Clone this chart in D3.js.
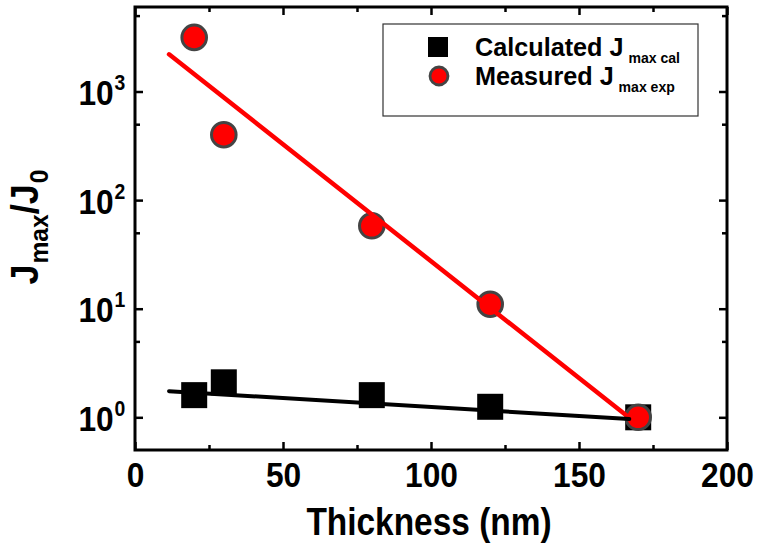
<!DOCTYPE html>
<html>
<head>
<meta charset="utf-8">
<script src="https://cdn.jsdelivr.net/npm/d3@7"></script>
<style>
  body { margin: 0; background: #fff; }
  text { font-family: "Liberation Sans", Arial, Helvetica, sans-serif; font-weight: bold; fill: #000; }
</style>
</head>
<body>
<svg id="chart" width="757" height="545"></svg>
<script>
// Film thickness (nm) and normalised current density J_max / J_0
const thickness = [20, 30, 80, 120, 170];
const calculated = [1.6, 2.1, 1.6, 1.25, 1.0];
const measured = [3150, 400, 58, 11, 1.0];

// Exponential fit lines (straight on the log axis), end points only
const fitThickness = [11.5, 167];
const calculatedFit = [1.74, 0.965];
const measuredFit = [2200, 0.99];

// Axis ticks
const xTicks = [0, 50, 100, 150, 200];
const xMinorTicks = [25, 75, 125, 175];
const yTicks = [1, 10, 100, 1000];
const yMinorTicks = [5, 50, 500, 5000];

const legendItems = [
  { main: "Calculated J", sub: "max cal", shape: "square" },
  { main: "Measured J", sub: "max exp", shape: "circle" }
];

const plot = { left: 135, right: 727, top: 7, bottom: 450 };
const squeeze = 0.88; // narrow bold face

const svg = d3.select("#chart");

const x = d3.scaleLinear().domain([0, 200]).range([plot.left, plot.right]);
const y = d3.scaleLog().domain([0.5, 6000]).range([plot.bottom, plot.top]);

// ---- axes (ticks point inward on all four sides) ----
function axisGroup(axis, tx, ty) {
  const g = svg.append("g").attr("transform", `translate(${tx},${ty})`).call(axis);
  g.select(".domain").remove();
  g.selectAll(".tick line").attr("stroke", "#000").attr("stroke-width", 2.5);
  return g;
}

const major = 8, minor = 5;

// bottom
const gx = axisGroup(d3.axisBottom(x).tickValues(xTicks).tickSize(-major).tickFormat(d3.format("d")), 0, plot.bottom);
gx.selectAll(".tick text")
  .attr("y", 37).attr("dy", 0)
  .attr("font-size", 36)
  .attr("transform", `scale(${squeeze},1)`)
  .style("font-family", null).style("font-weight", "bold");
axisGroup(d3.axisBottom(x).tickValues(xMinorTicks).tickSize(-minor).tickFormat(""), 0, plot.bottom);
// top
axisGroup(d3.axisTop(x).tickValues(xTicks).tickSize(-major).tickFormat(""), 0, plot.top);
axisGroup(d3.axisTop(x).tickValues(xMinorTicks).tickSize(-minor).tickFormat(""), 0, plot.top);

// left, with power-of-ten labels
const gy = axisGroup(d3.axisLeft(y).tickValues(yTicks).tickSize(-major).tickFormat(() => ""), plot.left, 0);
gy.selectAll(".tick").each(function (d) {
  const t = d3.select(this).select("text")
    .attr("x", -11).attr("dy", 0).attr("y", 13)
    .attr("text-anchor", "end")
    .attr("font-size", 36)
    .attr("transform", `scale(${squeeze},1)`)
    .style("font-family", null).style("font-weight", "bold");
  t.text(null);
  t.append("tspan").text("10");
  t.append("tspan").attr("font-size", 22).attr("dx", 1).attr("dy", -15).text(Math.round(Math.log10(d)));
});
axisGroup(d3.axisLeft(y).tickValues(yMinorTicks).tickSize(-minor).tickFormat(""), plot.left, 0);
// right
axisGroup(d3.axisRight(y).tickValues(yTicks).tickSize(-major).tickFormat(""), plot.right, 0);
axisGroup(d3.axisRight(y).tickValues(yMinorTicks).tickSize(-minor).tickFormat(""), plot.right, 0);

// frame
svg.append("rect")
  .attr("x", plot.left).attr("y", plot.top)
  .attr("width", plot.right - plot.left).attr("height", plot.bottom - plot.top)
  .attr("fill", "none").attr("stroke", "#000").attr("stroke-width", 3);

// ---- data markers ----
const sq = 26;
svg.append("g").selectAll("rect")
  .data(thickness.map((t, i) => [t, calculated[i]]))
  .join("rect")
  .attr("x", d => x(d[0]) - sq / 2).attr("y", d => y(d[1]) - sq / 2)
  .attr("width", sq).attr("height", sq)
  .attr("fill", "#000");

svg.append("g").selectAll("circle")
  .data(thickness.map((t, i) => [t, measured[i]]))
  .join("circle")
  .attr("cx", d => x(d[0])).attr("cy", d => y(d[1]))
  .attr("r", 12.3)
  .attr("fill", "#ff0000").attr("stroke", "#444").attr("stroke-width", 3);

// ---- fit lines ----
const line = d3.line().x(d => x(d[0])).y(d => y(d[1]));
svg.append("path")
  .datum(fitThickness.map((t, i) => [t, measuredFit[i]]))
  .attr("d", line).attr("fill", "none")
  .attr("stroke", "#ff0000").attr("stroke-width", 4.5).attr("stroke-linecap", "round");
svg.append("path")
  .datum(fitThickness.map((t, i) => [t, calculatedFit[i]]))
  .attr("d", line).attr("fill", "none")
  .attr("stroke", "#000").attr("stroke-width", 4).attr("stroke-linecap", "round");

// ---- axis titles ----
svg.append("text")
  .attr("transform", `translate(${(plot.left + plot.right) / 2 - 2},535) scale(${squeeze},1)`)
  .attr("text-anchor", "middle").attr("font-size", 38)
  .text("Thickness (nm)");

const yTitle = svg.append("text")
  .attr("transform", "translate(38,227) rotate(-90) scale(0.95,1)")
  .attr("text-anchor", "middle").attr("font-size", 38);
yTitle.append("tspan").text("J");
yTitle.append("tspan").attr("font-size", 26).attr("dx", 1).attr("dy", 10).text("max");
yTitle.append("tspan").attr("dy", -10).text("/J");
yTitle.append("tspan").attr("font-size", 26).attr("dx", 1).attr("dy", 10).text("0");

// ---- legend ----
const lg = svg.append("g").attr("transform", "translate(383,24)");
lg.append("rect")
  .attr("width", 315).attr("height", 92)
  .attr("fill", "#fff").attr("stroke", "#333").attr("stroke-width", 1.2);
const rows = lg.selectAll("g.row").data(legendItems).join("g")
  .attr("class", "row")
  .attr("transform", (d, i) => `translate(0,${23 + i * 29})`);
rows.filter(d => d.shape === "square").append("rect")
  .attr("x", 55 - 10).attr("y", -10).attr("width", 20).attr("height", 20).attr("fill", "#000");
rows.filter(d => d.shape === "circle").append("circle")
  .attr("cx", 56).attr("cy", 0).attr("r", 9)
  .attr("fill", "#ff0000").attr("stroke", "#444").attr("stroke-width", 2.8);
const lt = rows.append("text")
  .attr("transform", "translate(92,9) scale(0.97,1)")
  .attr("font-size", 26);
lt.append("tspan").text(d => d.main);
lt.append("tspan").attr("font-size", 14.5).attr("dx", 5).attr("dy", 7).text(d => d.sub);
</script>
</body>
</html>
